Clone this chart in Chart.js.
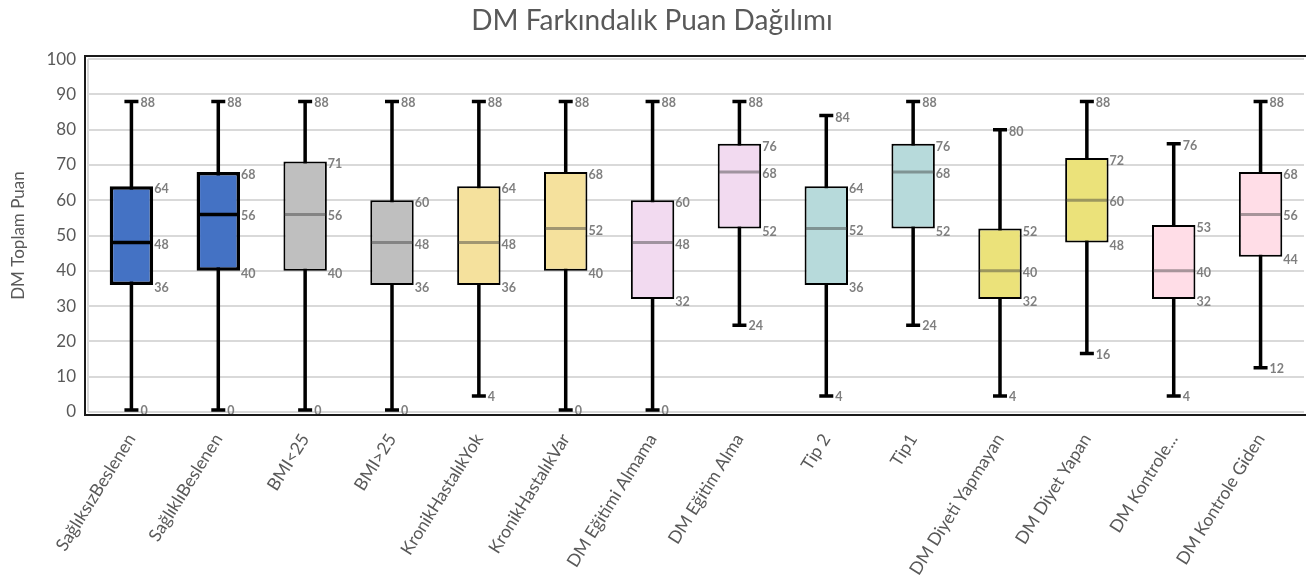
<!DOCTYPE html>
<html>
<head>
<meta charset="utf-8">
<script src="https://cdn.jsdelivr.net/npm/chart.js@4/dist/chart.umd.min.js"></script>
<style>
  html, body { margin: 0; padding: 0; background: #fff; }
  #wrap { width: 1306px; height: 584px; }
</style>
</head>
<body>
<div id="wrap"><canvas id="chart"></canvas></div>
<script>
// categories and the five-number summaries
const categories = [
    'SağlıksızBeslenen', 'SağlıklıBeslenen', 'BMI<25', 'BMI>25',
    'KronikHastalıkYok', 'KronikHastalıkVar', 'DM Eğitimi Almama', 'DM Eğitim Alma',
    'Tip 2', 'Tip1', 'DM Diyeti Yapmayan', 'DM Diyet Yapan',
    'DM Kontrole...', 'DM Kontrole Giden'
];
const minValues    = [0, 0, 0, 0, 4, 0, 0, 24, 4, 24, 4, 16, 4, 12];
const q1Values     = [36, 40, 40, 36, 36, 40, 32, 52, 36, 52, 32, 48, 32, 44];
const medianValues = [48, 56, 56, 48, 48, 52, 48, 68, 52, 68, 40, 60, 40, 56];
const q3Values     = [64, 68, 71, 60, 64, 68, 60, 76, 64, 76, 52, 72, 53, 68];
const maxValues    = [88, 88, 88, 88, 88, 88, 88, 88, 84, 88, 80, 88, 76, 88];
const yTicks = [0, 10, 20, 30, 40, 50, 60, 70, 80, 90, 100];

const boxColors = [
    '#4472C4', '#4472C4', '#BFBFBF', '#BFBFBF', '#F5E19D', '#F5E19D', '#F2DAF0',
    '#F2DAF0', '#B7DADB', '#B7DADB', '#EBE27A', '#EBE27A', '#FFDDE7', '#FFDDE7'
];
const heavyBox = [true, true, false, false, false, false, false, false, false, false, false, false, false, false];

const FONT = 'Lato, "Open Sans", sans-serif';
const GREY = '#595959';

// whiskers go behind the boxes, medians and value labels on top
const boxPlotPlugin = {
    id: 'boxPlot',
    beforeDatasetsDraw(chart) {
        const ctx = chart.ctx;
        const y = chart.scales.y;
        const meta = chart.getDatasetMeta(0);
        ctx.save();
        ctx.strokeStyle = '#000';
        ctx.lineWidth = 3.5;
        meta.data.forEach((bar, i) => {
            const x = bar.x;
            const yMin = y.getPixelForValue(minValues[i]) - 2;
            const yMax = y.getPixelForValue(maxValues[i]);
            ctx.beginPath();
            ctx.moveTo(x, yMin);
            ctx.lineTo(x, yMax);
            ctx.moveTo(x - 7, yMin);
            ctx.lineTo(x + 7, yMin);
            ctx.moveTo(x - 7, yMax);
            ctx.lineTo(x + 7, yMax);
            ctx.stroke();
        });
        ctx.restore();
    },
    afterDatasetsDraw(chart) {
        const ctx = chart.ctx;
        const y = chart.scales.y;
        const meta = chart.getDatasetMeta(0);
        ctx.save();
        meta.data.forEach((bar, i) => {
            const half = bar.width / 2;
            const ym = y.getPixelForValue(medianValues[i]);
            ctx.beginPath();
            ctx.moveTo(bar.x - half + 1, ym);
            ctx.lineTo(bar.x + half - 1, ym);
            ctx.lineWidth = heavyBox[i] ? 3.5 : 3;
            ctx.strokeStyle = heavyBox[i] ? '#000' : 'rgba(60,60,60,0.45)';
            ctx.stroke();
        });

        ctx.font = 'bold 12.5px ' + FONT;
        ctx.fillStyle = '#7f7f7f';
        ctx.textBaseline = 'middle';
        ctx.textAlign = 'left';
        meta.data.forEach((bar, i) => {
            const right = bar.x + bar.width / 2 + 1;
            const whiskerX = bar.x + 9;
            ctx.fillText(String(maxValues[i]), whiskerX, y.getPixelForValue(maxValues[i]) + 2);
            ctx.fillText(String(minValues[i]), whiskerX, y.getPixelForValue(minValues[i]) - 1);
            ctx.fillText(String(q3Values[i]), right, y.getPixelForValue(q3Values[i]) + 3);
            ctx.fillText(String(medianValues[i]), right, y.getPixelForValue(medianValues[i]) + 2);
            ctx.fillText(String(q1Values[i]), right, y.getPixelForValue(q1Values[i]) + 3);
        });
        ctx.restore();
    },
    afterDraw(chart) {
        // frame round the plot area (no right side, it runs off the picture)
        const a = chart.chartArea;
        const ctx = chart.ctx;
        ctx.save();
        ctx.strokeStyle = '#d9d9d9';
        ctx.lineWidth = 2;
        ctx.beginPath();
        ctx.moveTo(a.left, a.top);
        ctx.lineTo(a.left, a.bottom);
        ctx.stroke();
        ctx.strokeStyle = '#1a1a1a';
        ctx.lineWidth = 2;
        ctx.beginPath();
        ctx.moveTo(a.right + 4, a.top - 3);
        ctx.lineTo(a.left - 3, a.top - 3);
        ctx.lineTo(a.left - 3, a.bottom + 3);
        ctx.lineTo(a.right + 4, a.bottom + 3);
        ctx.stroke();
        ctx.restore();
    }
};

new Chart(document.getElementById('chart'), {
    type: 'bar',
    data: {
        labels: categories,
        datasets: [{
            data: categories.map((c, i) => [q1Values[i], q3Values[i]]),
            backgroundColor: boxColors,
            borderColor: '#000',
            borderWidth: heavyBox.map(h => h ? 3.5 : 2),
            borderSkipped: false,
            barPercentage: 0.5,
            categoryPercentage: 1
        }]
    },
    options: {
        responsive: true,
        maintainAspectRatio: false,
        animation: false,
        layout: { padding: { left: 0, right: 2, top: 0, bottom: 0 } },
        plugins: {
            legend: { display: false },
            tooltip: { enabled: false },
            title: {
                display: true,
                text: 'DM Farkındalık Puan Dağılımı',
                color: GREY,
                font: { family: FONT, size: 28, weight: 'normal' },
                padding: { top: 4, bottom: 21.5 }
            }
        },
        scales: {
            x: {
                grid: { display: false },
                border: { display: false },
                ticks: {
                    color: GREY,
                    font: { family: FONT, size: 17.5 },
                    minRotation: 58,
                    maxRotation: 58,
                    autoSkip: false,
                    padding: 10
                },
                afterFit(scale) { scale.height = 172; }
            },
            y: {
                min: 0,
                max: 100,
                afterBuildTicks(scale) { scale.ticks = yTicks.map(v => ({ value: v })); },
                grid: { color: '#d9d9d9', lineWidth: 2, drawTicks: false },
                border: { display: false },
                ticks: {
                    color: GREY,
                    font: { family: FONT, size: 17 },
                    padding: 12
                },
                title: {
                    display: true,
                    text: 'DM Toplam Puan',
                    color: GREY,
                    font: { family: FONT, size: 17 },
                    padding: { top: 8, bottom: 4 }
                },
                afterFit(scale) { scale.width = 88; }
            }
        }
    },
    plugins: [boxPlotPlugin]
});
</script>
</body>
</html>
